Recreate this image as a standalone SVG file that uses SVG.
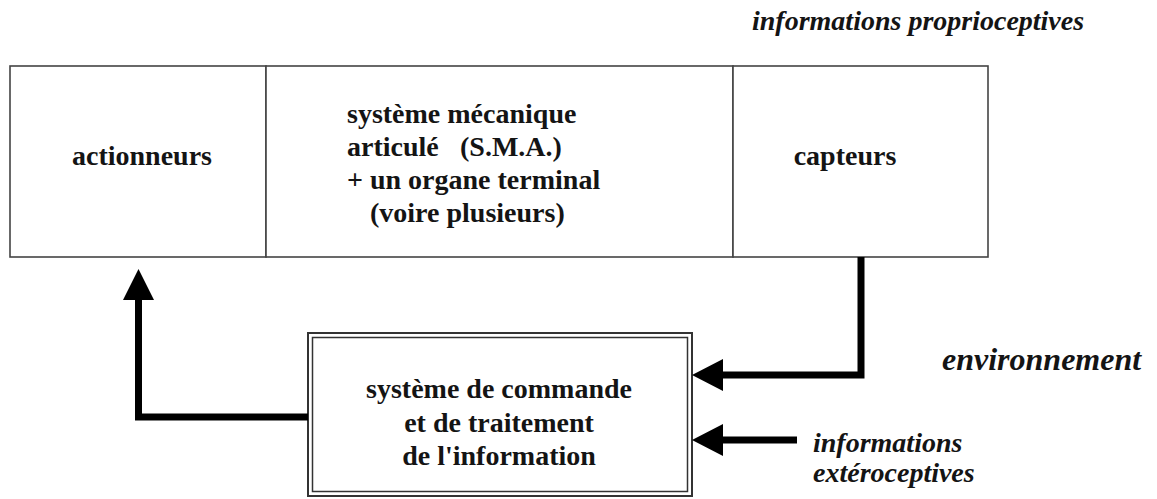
<svg xmlns="http://www.w3.org/2000/svg" width="1157" height="499" viewBox="0 0 1157 499">
  <defs>
    <style>
      .t { font-family: "Liberation Serif", "Times New Roman", serif; font-weight: bold; font-size: 28px; fill: #141414; }
      .i { font-style: italic; }
      .box { fill: #fff; stroke: #444; stroke-width: 1.6; }
      .dbl { fill: none; stroke: #333; }
      .conn { fill: none; stroke: #000; stroke-width: 7; stroke-linejoin: miter; }
      .head { fill: #000; }
    </style>
  </defs>
  <rect width="1157" height="499" fill="#fff"/>

  <g id="label-proprio">
    <text class="t i" x="752" y="30">informations proprioceptives</text>
  </g>

  <g id="actionneurs">
    <rect class="box" x="10" y="66" width="256" height="191"/>
    <text class="t" x="142" y="165" text-anchor="middle">actionneurs</text>
  </g>

  <g id="sma">
    <rect class="box" x="266" y="66" width="467" height="191"/>
    <text class="t" x="347" y="123">système mécanique</text>
    <text class="t" x="347" y="156">articulé</text>
    <text class="t" x="460" y="156">(S.M.A.)</text>
    <text class="t" x="347" y="189">+ un organe terminal</text>
    <text class="t" x="370" y="222">(voire plusieurs)</text>
  </g>

  <g id="capteurs">
    <rect class="box" x="733" y="66" width="255" height="191"/>
    <text class="t" x="845" y="165" text-anchor="middle">capteurs</text>
  </g>

  <g id="commande">
    <rect class="dbl" x="308" y="333" width="384" height="163" stroke-width="2"/>
    <rect class="dbl" x="312.5" y="337.5" width="375" height="154" stroke-width="1.5"/>
    <text class="t" x="499" y="398" text-anchor="middle">système de commande</text>
    <text class="t" x="499" y="432" text-anchor="middle">et de traitement</text>
    <text class="t" x="499" y="465" text-anchor="middle">de l'information</text>
  </g>

  <g id="environnement">
    <text class="t i" x="942" y="370" style="font-size:32px">environnement</text>
  </g>

  <g id="label-extero">
    <text class="t i" x="813" y="452">informations</text>
    <text class="t i" x="813" y="482">extéroceptives</text>
  </g>

  <g id="connectors">
    <polyline class="conn" points="308,417 138.5,417 138.5,298"/>
    <polygon class="head" points="138.5,269 123,300 154,300"/>
    <polyline class="conn" points="861,257 861,375 720,375"/>
    <polygon class="head" points="692,375 723,359 723,391"/>
    <line class="conn" x1="797" y1="440" x2="720" y2="440"/>
    <polygon class="head" points="692,440 723,424 723,456"/>
  </g>
</svg>
